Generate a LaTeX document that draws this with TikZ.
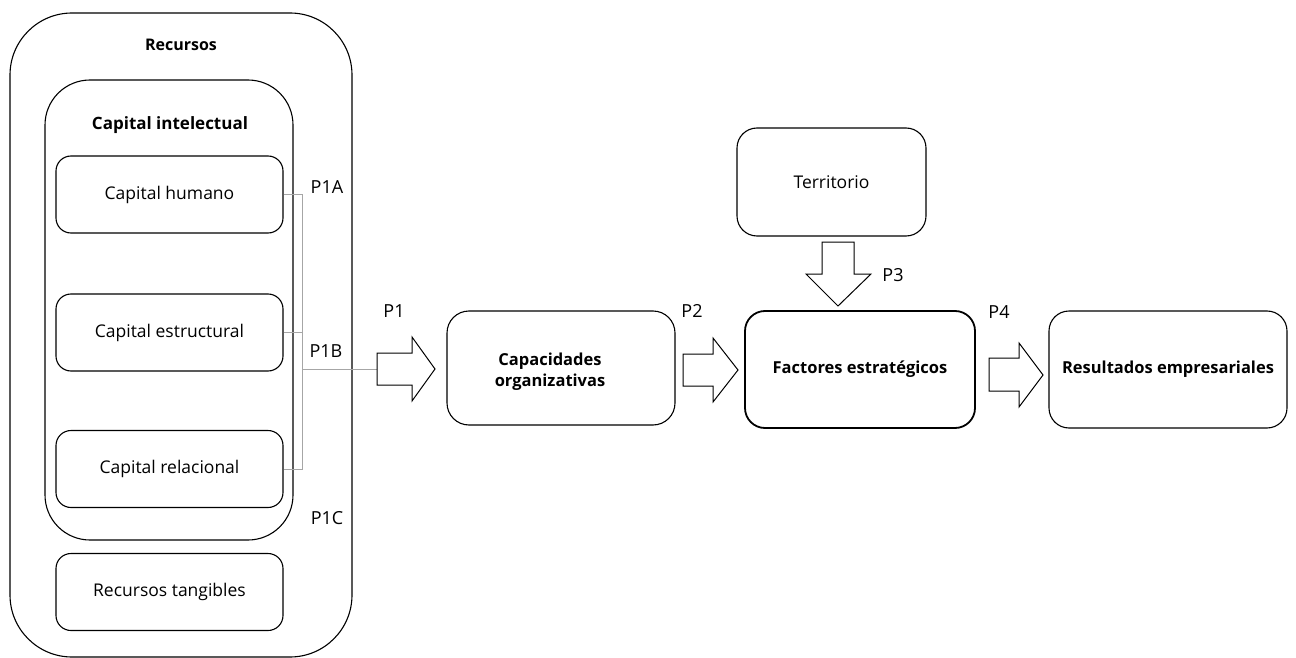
\documentclass[tikz,border=0pt]{standalone}
\usepackage{fontspec}
\setmainfont{Open Sans}
\begin{document}
\begin{tikzpicture}[x=1pt,y=-1pt,
  box/.style={draw=black,line width=1.1pt,rounded corners=#1,inner sep=0pt,align=center,font=\fontsize{17.5}{21}\selectfont},
  box/.default=15pt,
  title/.style={font=\fontsize{#1}{19}\selectfont\bfseries,inner sep=0pt},
  title/.default=17,
  bold/.style={font=\fontsize{16.5}{21}\selectfont\bfseries},
  lbl/.style={font=\fontsize{18}{20}\selectfont,inner sep=0pt},
  link/.style={draw=black!35,line width=0.9pt},
  blockarrow/.style={draw=black,line width=1pt,fill=white,line join=miter}]
\useasboundingbox (0,0) rectangle (1296,658);

% Recursos container
\node[box=62pt,minimum width=342pt,minimum height=644pt] (rec) at (181,335) {};
\node[title=16] (rect) at (181,45) {Recursos};
\node[box=45pt,minimum width=248pt,minimum height=460pt] (ci) at (169,310) {};
\node[title] (cit) at (170,125) {Capital intelectual};
\node[box,minimum width=227pt,minimum height=77pt] (ch) at (169.5,194.5) {Capital humano};
\node[box,minimum width=227pt,minimum height=77pt] (ce) at (169.5,332.5) {Capital estructural};
\node[box,minimum width=227pt,minimum height=77pt] (cr) at (169.5,469) {Capital relacional};
\node[box,minimum width=227pt,minimum height=77pt] (rt) at (169.5,592) {Recursos tangibles};

% Right side boxes
\node[box=22pt,minimum width=228pt,minimum height=114pt] (cap) at (561,368) {};
\node[bold,align=center,inner sep=0pt] (capt) at (550,372) {Capacidades\\organizativas};
\node[box=20pt,minimum width=189pt,minimum height=108pt] (ter) at (831.5,182) {Territorio};
\node[box=20pt,line width=1.8pt,minimum width=230pt,minimum height=117pt,bold] (fac) at (860,369.5) {Factores estratégicos};
\node[box=20pt,minimum width=238pt,minimum height=117pt,bold] (res) at (1168,369.5) {Resultados empresariales};

% gray connectors
\coordinate (bus) at (302,369);
\coordinate (bustop) at (302,194.5);
\coordinate (busbot) at (302,469);
\coordinate (busmid) at (302,332.5);
\coordinate (a1) at (377,369);
\draw[link] (ch.east) -- (bustop) -- (busbot) -- (cr.east);
\draw[link] (ce.east) -- (busmid);
\draw[link] (bus) -- (a1);

% block arrows
\draw[blockarrow] (377,353) -- (412,353) -- (412,337) -- (435,369) -- (412,401) -- (412,385) -- (377,385) -- cycle;
\draw[blockarrow] (683,354) -- (713,354) -- (713,338) -- (738,370) -- (713,402) -- (713,386) -- (683,386) -- cycle;
\draw[blockarrow] (989,358) -- (1019,358) -- (1019,343) -- (1043,375) -- (1019,407) -- (1019,391) -- (989,391) -- cycle;
\draw[blockarrow] (822,242) -- (854,242) -- (854,274) -- (871,274) -- (838,306) -- (806,274) -- (822,274) -- cycle;

% labels
\node[lbl] (p1a) at (327,187) {P1A};
\node[lbl] (p1b) at (326,351) {P1B};
\node[lbl] (p1c) at (327,518) {P1C};
\node[lbl] (p1) at (394,311) {P1};
\node[lbl] (p2) at (692,311) {P2};
\node[lbl] (p3) at (893,275) {P3};
\node[lbl] (p4) at (999,312) {P4};
\end{tikzpicture}
\end{document}
